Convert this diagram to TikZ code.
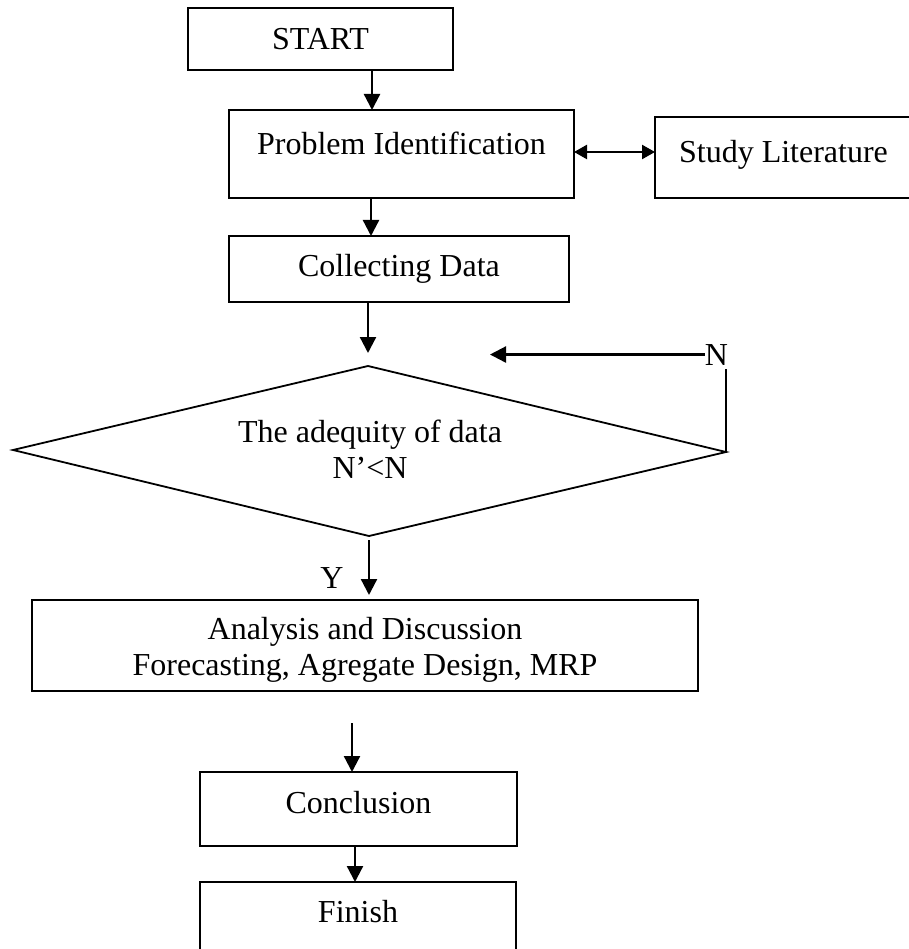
\documentclass[tikz,border=0pt]{standalone}
\usepackage{fontspec}
\setmainfont{Liberation Serif}
\usetikzlibrary{arrows.meta}
\newcommand\bltext[2]{\smash{\raisebox{#1}{\begin{tabular}[b]{@{}c@{}}#2\end{tabular}}}}
\begin{document}
\begin{tikzpicture}[x=1pt,y=-1pt, font=\fontsize{32}{36}\selectfont,
  box/.style={draw, line width=1.8pt, inner sep=0pt, outer sep=0pt},
  arr/.style={line width=2.3pt, -{Triangle[length=16pt,width=16pt]}},
  darr/.style={line width=2.3pt, {Triangle[length=13pt,width=14pt]}-{Triangle[length=13pt,width=14pt]}}]
\useasboundingbox (0,0) rectangle (908,949);
\node[box, minimum width=265pt, minimum height=62pt] (start) at (320.5,39) {\bltext{-11pt}{START}};
\node[box, minimum width=345pt, minimum height=88pt] (pi) at (401.5,154) {\bltext{-1pt}{Problem Identification}};
\node[box, minimum width=262pt, minimum height=81pt] (sl) at (786,157.5) {\bltext{-5.5pt}{\hspace*{-5pt}Study Literature}};
\node[box, minimum width=340pt, minimum height=66pt] (cd) at (399,269) {\bltext{-8pt}{Collecting Data}};
% decision diamond
\coordinate (dtop) at (368,366);
\coordinate (dleft) at (13,450);
\coordinate (dright) at (726,452);
\coordinate (dbot) at (369,536);
\draw[line width=1.8pt, line join=miter] (dtop) -- (dright) -- (dbot) -- (dleft) -- cycle;
\node[inner sep=0pt] (dtext) at (370,451) {\bltext{-27pt}{The adequity of data\\N’<N}};
\node[box, minimum width=666pt, minimum height=91pt] (ana) at (365,645.5) {\bltext{-29.5pt}{Analysis and Discussion\\Forecasting, Agregate Design, MRP}};
\node[box, minimum width=317pt, minimum height=74pt] (concl) at (358.5,809) {\bltext{-4pt}{Conclusion}};
\node[box, minimum width=316pt, minimum height=69pt] (fin) at (358,916.5) {\bltext{-5.5pt}{Finish}};
\node[anchor=base, inner sep=0pt] (ylab) at (332,588) {Y};
\node[anchor=base, inner sep=0pt] (nlab) at (716.5,365) {N};
\coordinate (nend) at (490,353);
\coordinate (ntop) at (726,369);
\draw[arr] (start.south -| 372,0) -- (pi.north -| 372,0);
\draw[arr] (pi.south -| 371,0) -- (cd.north -| 371,0);
\draw[arr, shorten >=13pt] (cd.south -| 368,0) -- (dtop);
\draw[line width=2.3pt] (dright) -- (ntop);
\draw[arr] (nlab.west) -- (nlab.west -| nend);
\draw[arr, shorten <=4pt, shorten >=5pt] (dbot) -- (ana.north -| dbot);
\draw[arr, shorten <=32pt] (ana.south -| 352,0) -- (concl.north -| 352,0);
\draw[arr] (concl.south -| 355,0) -- (fin.north -| 355,0);
\draw[darr] (pi.east |- 0,152) -- (sl.west |- 0,152);
\end{tikzpicture}
\end{document}
